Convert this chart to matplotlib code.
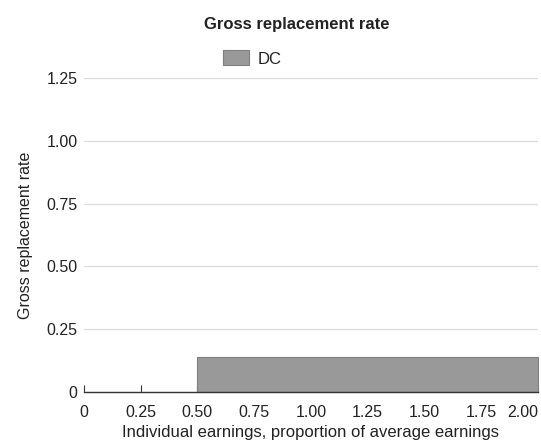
import matplotlib
matplotlib.use("Agg")
import matplotlib.pyplot as plt

earnings = [0.5, 0.75, 1.0, 1.25, 1.5, 1.75, 2.0]
dc_rate = [0.14, 0.14, 0.14, 0.14, 0.14, 0.14, 0.14]
xticks = [0, 0.25, 0.5, 0.75, 1.0, 1.25, 1.5, 1.75, 2.0]
xticklabels = ["0", "0.25", "0.50", "0.75", "1.00", "1.25", "1.50", "1.75", "2.00"]
yticks = [0, 0.25, 0.5, 0.75, 1.0, 1.25]
yticklabels = ["0", "0.25", "0.50", "0.75", "1.00", "1.25"]

plt.rcParams['font.family'] = ['Liberation Sans', 'DejaVu Sans']

fig = plt.figure(figsize=(5.41, 4.42), dpi=100)
ax = fig.add_axes([0.155, 0.113, 0.8395, 0.7105])

ax.fill_between(earnings, 0, dc_rate, color='#999999', edgecolor='#7f7f7f', linewidth=0.8, label='DC', zorder=2)

ax.set_xlim(0, 2.0)
ax.set_ylim(0, 1.25)
ax.set_xticks(xticks)
ax.set_xticklabels(xticklabels, fontsize=11.5, color='#222222')
ax.set_yticks(yticks)
ax.set_yticklabels(yticklabels, fontsize=11.5, color='#222222')
lbls = ax.get_xticklabels()
lbls[-1].set_horizontalalignment('right')

ax.grid(axis='y', color='#dcdcdc', linewidth=0.9, zorder=0)
ax.set_axisbelow(True)
for s in ['left', 'right', 'top']:
    ax.spines[s].set_visible(False)
ax.spines['bottom'].set_color('#333333')
ax.spines['bottom'].set_linewidth(1.0)
ax.spines['bottom'].set_zorder(3)
ax.tick_params(axis='x', direction='in', length=5, color='#333333', pad=9)
ax.tick_params(axis='y', length=0, pad=4.5)

ax.set_xlabel('Individual earnings, proportion of average earnings', fontsize=12, color='#222222', labelpad=4)
ax.set_ylabel('Gross replacement rate', fontsize=11.5, color='#222222', labelpad=10)

fig.text(0.549, 0.944, 'Gross replacement rate', ha='center', va='center', fontsize=12,
         fontweight='bold', color='#222222')

leg = ax.legend(loc='center', bbox_to_anchor=(0.371, 1.062), frameon=False, fontsize=12,
                handlelength=1.55, handleheight=1.0, handletextpad=0.5, borderaxespad=0,
                borderpad=0)
for t in leg.get_texts():
    t.set_color('#222222')

fig.savefig('out.png', dpi=100)
